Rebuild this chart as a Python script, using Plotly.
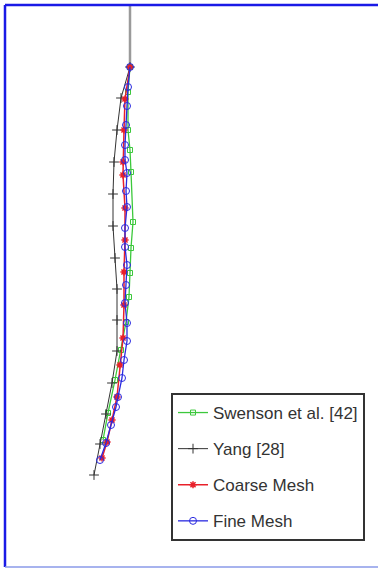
import plotly.graph_objects as go

# Pole (gray vertical line above the curves)
pole_x = [130, 130]
pole_y = [5, 67]

# Swenson et al. [42]
swenson_x = [130, 128, 128, 130, 131, 133, 131, 130, 129, 126, 121, 115, 108, 103]
swenson_y = [67, 92, 130, 150, 172, 222, 248, 273, 297, 322, 350, 380, 413, 440]

# Yang [28]
yang_x = [130, 121, 117, 114, 113, 113, 115, 117, 117, 117, 112, 106, 100, 94]
yang_y = [67, 98, 130, 162, 194, 226, 258, 289, 320, 351, 383, 414, 444, 475]

# Coarse Mesh
coarse_x = [130, 125, 124, 123, 123, 125, 125, 124, 124, 123, 120, 117, 112, 107, 102]
coarse_y = [67, 99, 130, 162, 175, 208, 240, 272, 305, 338, 365, 397, 420, 442, 458]

# Fine Mesh
fine_x = [130, 128, 127, 126, 125, 125, 127, 126, 127, 125, 125, 127, 126, 125, 127,
          127, 124, 122, 118, 116, 111, 106, 100]
fine_y = [67, 87, 106, 125, 145, 160, 173, 191, 207, 228, 247, 265, 285, 303, 323,
          341, 360, 378, 397, 407, 425, 443, 460]

W, H = 378, 570


def px(x):
    return x / W


def py(y):
    return 1 - y / H


fig = go.Figure()

fig.add_trace(go.Scatter(x=pole_x, y=pole_y, mode="lines",
                         line=dict(color="#9a9a9a", width=2.5),
                         showlegend=False, hoverinfo="skip"))

fig.add_trace(go.Scatter(x=swenson_x, y=swenson_y, mode="lines+markers",
                         name="Swenson et al. [42]", legendgroup="g1",
                         line=dict(color="#3cc83c", width=1.3),
                         marker=dict(symbol="square-open", size=5,
                                     color="#3cc83c", line=dict(width=1))))

fig.add_trace(go.Scatter(x=yang_x, y=yang_y, mode="lines+markers",
                         name="Yang [28]", legendgroup="g2",
                         line=dict(color="#333333", width=1),
                         marker=dict(symbol="cross-thin-open", size=7,
                                     color="#333333", line=dict(width=1, color="#333333"))))

fig.add_trace(go.Scatter(x=coarse_x, y=coarse_y, mode="lines+markers",
                         name="Coarse Mesh", legendgroup="g3",
                         line=dict(color="#e8202a", width=1.5),
                         marker=dict(symbol="asterisk-open", size=6,
                                     color="#e8202a", line=dict(width=1.5, color="#e8202a"))))

fig.add_trace(go.Scatter(x=fine_x, y=fine_y, mode="lines+markers",
                         name="Fine Mesh", legendgroup="g4",
                         line=dict(color="#2a2ae0", width=1.3),
                         marker=dict(symbol="circle-open", size=7,
                                     color="#2a2ae0", line=dict(width=1))))

fig.update_xaxes(range=[0, 378], visible=False, fixedrange=True)
fig.update_yaxes(range=[570, 0], visible=False, fixedrange=True)

shapes = [
    dict(type="line", xref="paper", yref="paper", x0=px(5), x1=1, y0=py(5), y1=py(5),
         line=dict(color="#1a1ae6", width=2.5)),
    dict(type="line", xref="paper", yref="paper", x0=px(5), x1=px(5), y0=py(5), y1=py(567),
         line=dict(color="#1a1ae6", width=2.5)),
    dict(type="line", xref="paper", yref="paper", x0=px(5), x1=1, y0=py(567), y1=py(567),
         line=dict(color="#8a9ae8", width=1.5)),
]

fig.update_layout(
    width=W, height=H,
    margin=dict(l=0, r=0, t=0, b=0),
    paper_bgcolor="white", plot_bgcolor="white",
    shapes=shapes,
    legend=dict(x=px(171), y=py(393), xanchor="left", yanchor="top",
                bordercolor="#333333", borderwidth=2, bgcolor="white",
                font=dict(family="Liberation Sans, Arial", size=17, color="#333333"),
                tracegroupgap=11, itemwidth=30),
    showlegend=True,
)

fig.write_html("out.html",
               config={"displayModeBar": False},
               post_script="document.body.style.margin='0';document.body.style.overflow='hidden';")
